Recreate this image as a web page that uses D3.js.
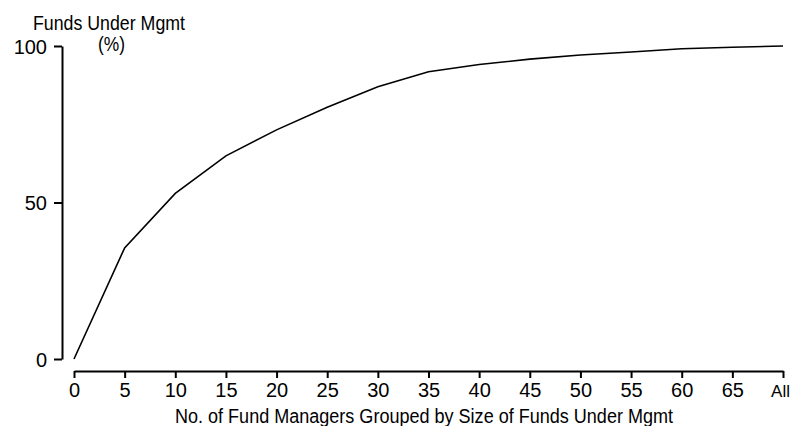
<!DOCTYPE html>
<html>
<head>
<meta charset="utf-8">
<script src="https://cdn.jsdelivr.net/npm/d3@7"></script>
<style>
  body { margin: 0; background: #fff; }
  text { font-family: "Liberation Sans", Arial, sans-serif; fill: #000; }
</style>
</head>
<body>
<div id="chart"></div>
<script>
let categories = ["0", "5", "10", "15", "20", "25", "30", "35", "40", "45", "50", "55", "60", "65", "All"];
let shares = [0, 35.5, 52.9, 64.9, 73.2, 80.4, 87.0, 91.8, 94.1, 95.8, 97.1, 98.1, 99.1, 99.6, 100];
let yTicks = [0, 50, 100];

let width = 793,
    height = 426;

let svg = d3.select("#chart").append("svg")
    .attr("width", width)
    .attr("height", height);

let x = d3.scalePoint()
    .domain(categories)
    .range([74, 783]);

let y = d3.scaleLinear()
    .domain([0, 100])
    .range([359, 46]);

// y axis, offset from the x axis
let yAxis = svg.append("g")
    .attr("transform", "translate(62,0)")
    .call(d3.axisLeft(y).tickValues(yTicks).tickSize(8).tickPadding(7).tickSizeOuter(0));

yAxis.select(".domain").attr("stroke-width", 2);
yAxis.selectAll(".tick line").attr("stroke-width", 2);
yAxis.selectAll(".tick text")
    .style("font-size", "20px")
    .attr("dy", "0.36em");

let xAxis = svg.append("g")
    .attr("transform", "translate(0,371)")
    .call(d3.axisBottom(x).tickSize(7).tickPadding(5).tickSizeOuter(0));

xAxis.select(".domain").attr("stroke-width", 2);
xAxis.selectAll(".tick line").attr("stroke-width", 2);
xAxis.selectAll(".tick text").style("font-size", "20px");

// last label sits against the right edge, keep it inside
xAxis.selectAll(".tick text")
    .filter(d => d == "All")
    .style("font-size", "17px")
    .attr("y", 14)
    .attr("dy", "0.71em")
    .attr("dx", -3);

let line = d3.line()
    .x((d, i) => x(categories[i]))
    .y(d => y(d));

svg.append("path")
    .datum(shares)
    .attr("d", line)
    .attr("fill", "none")
    .attr("stroke", "#000")
    .attr("stroke-width", 1.6);

// the original face is a narrow grotesque, so squeeze the wider text
svg.append("text")
    .attr("x", 33)
    .attr("y", 30)
    .attr("textLength", 152)
    .attr("lengthAdjust", "spacingAndGlyphs")
    .style("font-size", "20px")
    .text("Funds Under Mgmt");

svg.append("text")
    .attr("x", 98)
    .attr("y", 51)
    .attr("textLength", 27)
    .attr("lengthAdjust", "spacingAndGlyphs")
    .style("font-size", "20px")
    .text("(%)");

svg.append("text")
    .attr("x", 175)
    .attr("y", 423)
    .attr("textLength", 498)
    .attr("lengthAdjust", "spacingAndGlyphs")
    .style("font-size", "20px")
    .text("No. of Fund Managers Grouped by Size of Funds Under Mgmt");
</script>
</body>
</html>
